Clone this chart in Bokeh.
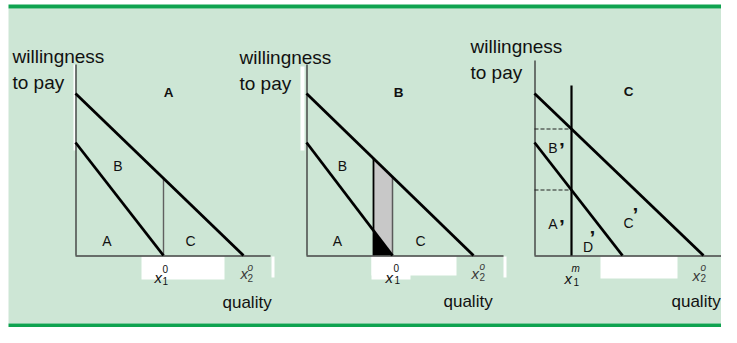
from bokeh.plotting import figure
from bokeh.models import Range1d
from bokeh.core.properties import value
from bokeh.embed import file_html
from bokeh.resources import INLINE

# ---------------- data (panel-local units: quality to the right, willingness to pay up) ----
panel_titles = ["A", "B", "C"]
upper_wtp_intercept = [162, 162, 162]   # higher demand curve, value at zero quality
upper_qty_intercept = [168, 167, 169]   # higher demand curve hits quality axis (x2^o)
lower_wtp_intercept = [113, 113, 113]   # lower demand curve, value at zero quality
lower_qty_intercept = [88, 86, 88]      # lower demand curve hits quality axis (x1^0)
wtp_axis_height = [191, 191, 195]
qty_axis_length = [195, 197, 194]
a_x1_quality = 88                       # panel A: vertical at x1^0
b_band_quality = [67, 86]               # panel B: shaded band
c_x1m_quality = 37                      # panel C: quality x1^m
c_x1m_height = 170                      # panel C: height of the x1^m line
axis_title_lines = ["willingness", "to pay"]
quality_title = "quality"
regions_A = ["B", "A", "C"]
regions_B = ["B", "A", "C"]
regions_C = ["B", "A", "D", "C"]

# ---------------- layout ----------------
FONT = "Liberation Sans"
BG = "#cde6d5"
GREEN = "#0fa350"
W, H = 721, 327
BASE = 255                     # page pixel row of the quality axes
PX = [75, 306, 534]            # page pixel column of each willingness axis


def Y(py):
    return BASE - py


p = figure(width=W, height=H, x_range=Range1d(0, W), y_range=Range1d(Y(H), Y(0)),
           output_backend="svg", toolbar_location=None, min_border=0,
           x_axis_type=None, y_axis_type=None)
p.grid.visible = False
p.outline_line_color = None
p.background_fill_color = "white"
p.border_fill_color = "white"

# panel background and frame bars
p.quad(left=[8], right=[W], top=[Y(8)], bottom=[Y(323)], fill_color=BG, line_color=None)
p.quad(left=[8, 8], right=[W, W], top=[Y(4), Y(323)], bottom=[Y(8), Y(327)],
       fill_color=GREEN, line_color=None)

# white scan patches
masks = [
    (141, 224, 256, 279), (271, 274, 256, 277), (73, 75, 64, 150),
    (371, 456, 256, 275), (371, 410, 256, 279), (300, 304, 66, 150), (503, 506, 256, 277),
    (600, 677, 256, 278),
]
p.quad(left=[m[0] for m in masks], right=[m[1] for m in masks],
       top=[Y(m[2]) for m in masks], bottom=[Y(m[3]) for m in masks],
       fill_color="white", line_color=None)


def upper(i, q):
    return upper_wtp_intercept[i] * (1 - q / upper_qty_intercept[i])


def lower(i, q):
    return lower_wtp_intercept[i] * (1 - q / lower_qty_intercept[i])


# panel B shaded band and black triangle
i = 1
qa, qb = b_band_quality
p.patch(x=[PX[i] + qa, PX[i] + qb, PX[i] + qb, PX[i] + qa],
        y=[upper(i, qa), upper(i, qb), lower(i, qb), lower(i, qa)],
        fill_color="#c8c8c8", line_color=None)
p.patch(x=[PX[i] + qa, PX[i] + qb, PX[i] + qa], y=[lower(i, qa), 0, 0],
        fill_color="black", line_color=None)
p.segment(x0=[PX[i] + qa], y0=[upper(i, qa)], x1=[PX[i] + qa], y1=[0],
          line_color="black", line_width=1.8)
p.segment(x0=[PX[i] + qb], y0=[upper(i, qb)], x1=[PX[i] + qb], y1=[0],
          line_color="#5a5a5a", line_width=1.5)

# axes
p.segment(x0=[PX[k] + 0.5 for k in range(3)], y0=[0] * 3,
          x1=[PX[k] + 0.5 for k in range(3)], y1=wtp_axis_height,
          line_color="#333333", line_width=1.3)
p.segment(x0=PX, y0=[-0.5] * 3, x1=[PX[k] + qty_axis_length[k] for k in range(3)], y1=[-0.5] * 3,
          line_color="#444444", line_width=1.3)

# panel A vertical at x1^0
p.segment(x0=[PX[0] + a_x1_quality], y0=[upper(0, a_x1_quality)],
          x1=[PX[0] + a_x1_quality], y1=[0], line_color="#606060", line_width=1.4)

# panel C dashed guides and x1^m line
i = 2
p.segment(x0=[PX[i], PX[i]], y0=[upper(i, c_x1m_quality), lower(i, c_x1m_quality)],
          x1=[PX[i] + c_x1m_quality] * 2, y1=[upper(i, c_x1m_quality), lower(i, c_x1m_quality)],
          line_color="#222222", line_width=1.1, line_dash="4 2")
p.segment(x0=[PX[i] + c_x1m_quality], y0=[0], x1=[PX[i] + c_x1m_quality], y1=[c_x1m_height],
          line_color="black", line_width=2.2)

# demand curves
p.segment(x0=PX, y0=upper_wtp_intercept, x1=[PX[k] + upper_qty_intercept[k] for k in range(3)],
          y1=[0] * 3, line_color="black", line_width=2.8)
p.segment(x0=PX, y0=lower_wtp_intercept, x1=[PX[k] + lower_qty_intercept[k] for k in range(3)],
          y1=[0] * 3, line_color="black", line_width=2.8)


def txt(x, py, s, size, style="normal", align="left", color="#111111"):
    p.text(x=[x], y=[Y(py)], text=[s], text_font=value(FONT), text_font_size=size,
           text_font_style=style, text_align=align, text_baseline="alphabetic",
           text_color=color)


# axis titles
for left, b1 in [(12, 56), (239, 57), (470, 46)]:
    txt(left, b1, axis_title_lines[0], "19px")
    txt(left, b1 + 26, axis_title_lines[1], "19px")
for left, b in [(222, 302), (443, 301), (671, 301)]:
    txt(left, b, quality_title, "17px")

# panel titles
for cx, b, t in zip([168, 398, 628], [92, 92, 91], panel_titles):
    txt(cx, b, t, "13.5px", "bold", "center")

# region labels
for (cx, b), t in zip([(117.5, 165), (106.5, 240), (190, 240)], regions_A):
    txt(cx, b, t, "14px", align="center")
for (cx, b), t in zip([(342, 165), (337, 240), (420, 240)], regions_B):
    txt(cx, b, t, "14px", align="center")
for (cx, b), t in zip([(552.5, 147), (552.5, 223), (587.5, 246), (628, 222)], regions_C):
    txt(cx, b, t, "14px", align="center")
for left, b in [(558.5, 149), (558.5, 226), (589, 237), (632, 214)]:
    txt(left, b, "\u2019", "21px", "bold")


# quality tick labels x_1^0, x_2^o, x_1^m
def xlabel(left, b, sup, sub, sup_dx, sup_b, sub_dx, sub_b, color="#111111", sup_style="normal"):
    txt(left, b, "x", "15px", "italic", color=color)
    txt(left + sup_dx, sup_b, sup, "10px", sup_style, color=color)
    txt(left + sub_dx, sub_b, sub, "10px", "normal", color=color)


xlabel(154, 277, "0", "1", 8, 268, 8, 280)
xlabel(240, 273, "o", "2", 7, 267, 7, 277, color="#3a3a3a", sup_style="italic")
xlabel(385, 277, "0", "1", 8, 267, 9, 279.5)
xlabel(471, 273, "o", "2", 8, 266, 8, 276, color="#3a3a3a", sup_style="italic")
xlabel(564, 278, "m", "1", 7, 268, 9, 281, sup_style="italic")
xlabel(692, 275, "o", "2", 8, 267, 8, 277, color="#3a3a3a", sup_style="italic")

open("out.html", "w").write(file_html(p, INLINE))
